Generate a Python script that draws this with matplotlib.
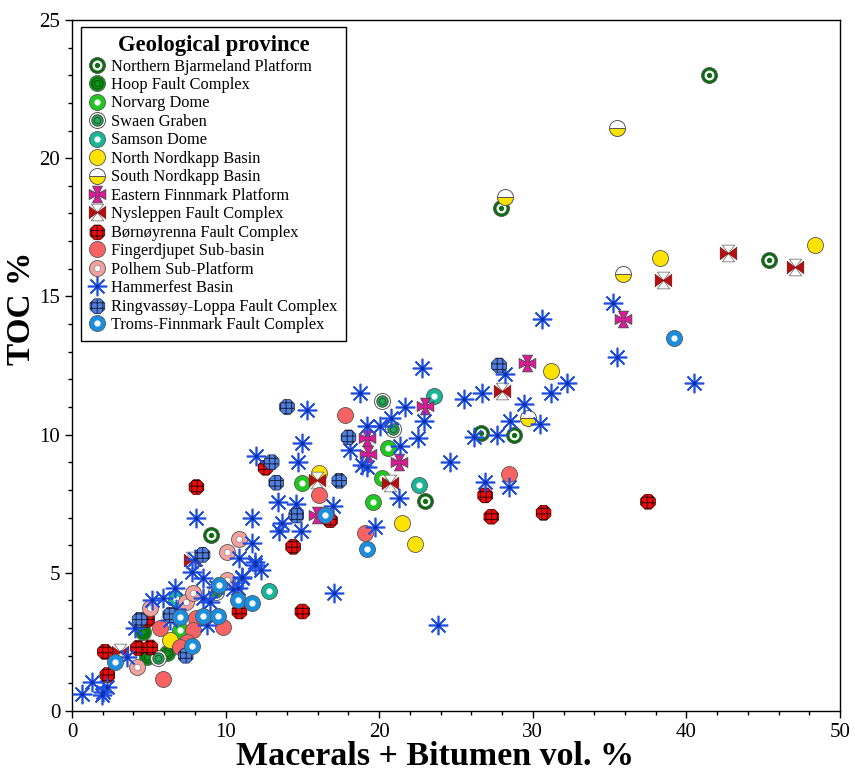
import matplotlib
matplotlib.use("Agg")
import matplotlib.pyplot as plt
from matplotlib.path import Path
from matplotlib.ticker import MultipleLocator

plt.rcParams['font.family'] = ['Liberation Serif', 'DejaVu Serif']
plt.rcParams['hatch.linewidth'] = 0.7

# ---------------- data: Macerals + Bitumen (vol. %) vs TOC (%) ----------------
nbp_x = [41.5, 27.9, 45.4, 26.6, 28.8, 23.0, 9.05]
nbp_y = [23.0, 18.2, 16.3, 10.05, 10.0, 7.6, 6.35]

hoop_x = [4.6, 4.9, 6.2]
hoop_y = [2.86, 1.96, 2.1]

norvarg_x = [15.0, 19.6, 20.2, 20.6, 7.0]
norvarg_y = [8.26, 7.57, 8.44, 9.5, 2.93]

swaen_x = [20.2, 20.9, 9.4, 5.6]
swaen_y = [11.2, 10.2, 4.3, 1.9]

samson_x = [23.6, 22.6, 6.8, 12.8]
samson_y = [11.4, 8.19, 4.06, 4.35]

nnk_x = [38.3, 48.4, 31.2, 16.1, 21.5, 22.3, 6.4]
nnk_y = [16.4, 16.85, 12.3, 8.6, 6.8, 6.05, 2.57]

snk_x = [35.5, 28.2, 35.9, 29.7]
snk_y = [21.1, 18.6, 15.8, 10.6]

efp_x = [29.6, 23.0, 19.2, 19.3, 21.3, 35.9, 15.95]
efp_y = [12.6, 11.05, 9.86, 9.3, 9.0, 14.2, 7.1]

nys_x = [42.7, 47.1, 38.5, 28.0, 20.7, 15.95, 7.8, 3.1]
nys_y = [16.56, 16.05, 15.6, 11.56, 8.26, 8.37, 5.47, 2.14]

born_x = [37.5, 30.7, 27.3, 26.9, 15.0, 14.4, 12.6, 8.1, 16.8, 10.9, 2.15, 2.3, 4.3, 5.1, 4.9]
born_y = [7.57, 7.17, 7.03, 7.8, 3.6, 5.94, 8.8, 8.1, 6.9, 3.6, 2.14, 1.3, 2.28, 2.3, 3.3]

fing_x = [28.45, 17.8, 16.1, 19.1, 5.7, 5.9, 8.1, 7.9, 7.5, 9.8, 7.0]
fing_y = [8.59, 10.7, 7.8, 6.45, 3.0, 1.16, 3.37, 2.93, 2.5, 3.04, 2.3]

polhem_x = [10.9, 10.1, 5.1, 7.4, 7.9, 4.2, 10.1]
polhem_y = [6.23, 5.76, 3.73, 3.95, 4.27, 1.6, 4.75]

ham_x = [30.6, 35.2, 35.5, 32.2, 40.5, 22.8, 28.2, 31.2, 25.5, 26.7, 29.4, 28.5, 30.5,
         18.75, 21.7, 22.9, 20.05, 19.2, 20.8, 26.2, 27.7, 22.5, 21.35, 19.2, 24.6,
         26.9, 28.45, 21.3, 23.8, 17.05, 11.7, 13.5, 14.9, 13.7, 19.7, 11.7, 10.9,
         11.9, 12.3, 11.1, 10.8, 13.4, 14.6, 17.0, 15.3, 15.0, 12.0, 14.7, 8.1, 18.1,
         18.9, 0.65, 1.3, 2.0, 2.3, 1.95, 3.6, 4.1, 5.2, 6.7, 8.0, 7.8, 8.5, 8.5,
         11.1, 11.9, 9.0, 9.4, 8.8, 5.9, 6.8, 6.4, 10.5]
ham_y = [14.2, 14.75, 12.8, 11.85, 11.85, 12.4, 12.2, 11.5, 11.3, 11.5, 11.1, 10.5, 10.4,
         11.5, 11.0, 10.5, 10.3, 10.3, 10.6, 9.9, 10.0, 9.86, 9.6, 8.84, 9.0,
         8.3, 8.1, 7.7, 3.1, 4.27, 7.0, 6.5, 6.5, 6.8, 6.67, 6.09, 5.54,
         5.4, 5.1, 4.8, 4.45, 7.57, 7.5, 7.4, 10.9, 9.7, 9.24, 9.0, 7.0, 9.46,
         8.9, 0.6, 1.05, 0.7, 0.87, 0.58, 1.96, 3.0, 4.0, 4.45, 5.5, 5.04, 4.8, 4.1,
         4.86, 5.3, 3.95, 4.5, 3.1, 4.1, 3.7, 3.3, 4.4]

ring_x = [27.8, 14.0, 18.0, 13.0, 13.3, 17.4, 14.6, 8.5, 4.4, 6.4, 7.4]
ring_y = [12.5, 11.0, 9.9, 9.0, 8.26, 8.33, 7.07, 5.65, 3.3, 3.48, 2.0]

troms_x = [39.2, 16.5, 19.2, 10.8, 11.7, 2.8, 7.0, 7.8, 8.5, 9.5, 9.6]
troms_y = [13.5, 7.1, 5.86, 4.0, 3.9, 1.78, 3.4, 2.36, 3.44, 3.44, 4.56]

x_label = "Macerals + Bitumen vol. %"
y_label = "TOC %"
legend_title = "Geological province"

# ---------------- custom marker shapes ----------------
def polygon_path(points_list):
    verts, codes = [], []
    for pts in points_list:
        verts += pts + [pts[0]]
        codes += [Path.MOVETO] + [Path.LINETO] * (len(pts) - 1) + [Path.CLOSEPOLY]
    return Path(verts, codes)

cross_pattee = polygon_path([[(0.15, 0.15), (0.6, 1), (-0.6, 1), (-0.15, 0.15), (-1, 0.6),
                              (-1, -0.6), (-0.15, -0.15), (-0.6, -1), (0.6, -1),
                              (0.15, -0.15), (1, -0.6), (1, 0.6)]])
bow_sides = polygon_path([[(0, 0), (-1, 0.75), (-1, -0.75)], [(0, 0), (1, 0.75), (1, -0.75)]])
bow_tops = polygon_path([[(0, 0), (-0.75, 1), (0.75, 1)], [(0, 0), (-0.75, -1), (0.75, -1)]])

EDGE = '#555555'
MS = 11.5

fig = plt.figure(figsize=(8.55, 7.70), dpi=100)
ax = fig.add_axes([72 / 855, 1 - 711 / 770, 768 / 855, 691 / 770])


def layers(x, y, specs, z):
    arts = []
    for i, sp in enumerate(specs):
        kw = dict(ls='none', zorder=z + i * 0.01)
        kw.update(sp)
        arts.append(ax.plot(x, y, **kw)[0])
    return tuple(arts)


handles = []
labels = []

h = layers(nbp_x, nbp_y, [dict(marker='o', ms=MS, mfc='#0d6b12', mec=EDGE, mew=0.6),
                          dict(marker='o', ms=7.2, mfc='white', mec='none'),
                          dict(marker='o', ms=3.8, mfc='#0d6b12', mec='none')], 3)
handles.append(h); labels.append("Northern Bjarmeland Platform")

h = layers(hoop_x, hoop_y, [dict(marker='o', ms=MS, mfc='#0c9a16', mec=EDGE, mew=0.6),
                            dict(marker='o', ms=8, mfc='none', mec='#05520a', mew=0.8),
                            dict(marker='o', ms=4.5, mfc='none', mec='#05520a', mew=0.8)], 3.1)
handles.append(h); labels.append("Hoop Fault Complex")

h = layers(norvarg_x, norvarg_y, [dict(marker='o', ms=MS, mfc='#1fc81f', mec=EDGE, mew=0.6),
                                  dict(marker='o', ms=4.5, mfc='white', mec='none')], 3.2)
handles.append(h); labels.append("Norvarg Dome")

h = layers(swaen_x, swaen_y, [dict(marker='o', ms=MS, mfc='white', mec=EDGE, mew=0.7),
                              dict(marker='o', ms=8.2, mfc='#2aa85a', mec='#333333', mew=0.6),
                              dict(marker='o', ms=4.6, mfc='none', mec='#135c2c', mew=0.7)], 3.3)
handles.append(h); labels.append("Swaen Graben")

h = layers(samson_x, samson_y, [dict(marker='o', ms=MS, mfc='#19b597', mec=EDGE, mew=0.6),
                                dict(marker='o', ms=4.5, mfc='white', mec='none')], 3.4)
handles.append(h); labels.append("Samson Dome")

h = layers(nnk_x, nnk_y, [dict(marker='o', ms=MS, mfc='#ffe300', mec=EDGE, mew=0.6)], 3.5)
handles.append(h); labels.append("North Nordkapp Basin")

h = layers(snk_x, snk_y, [dict(marker='o', ms=MS, fillstyle='bottom', mfc='#ffe300',
                               markerfacecoloralt='white', mec=EDGE, mew=0.7)], 3.6)
handles.append(h); labels.append("South Nordkapp Basin")

h = layers(efp_x, efp_y, [dict(marker=cross_pattee, ms=12, mfc='#e0189a', mec='#444444', mew=0.6)], 3.7)
handles.append(h); labels.append("Eastern Finnmark Platform")

h = layers(nys_x, nys_y, [dict(marker=bow_tops, ms=12, mfc='white', mec='#777777', mew=0.6),
                          dict(marker=bow_sides, ms=12, mfc='#b5100f', mec='#6a0a0a', mew=0.4)], 3.8)
handles.append(h); labels.append("Nysleppen Fault Complex")

sc = ax.scatter(born_x, born_y, s=MS ** 2, marker='8', facecolor='#ee0a0a',
                edgecolor='#3a0000', linewidths=0.5, hatch='+++', zorder=3.9)
handles.append(sc); labels.append("Børnøyrenna Fault Complex")

h = layers(fing_x, fing_y, [dict(marker='o', ms=MS, mfc='#f96262', mec=EDGE, mew=0.6)], 4.0)
handles.append(h); labels.append("Fingerdjupet Sub-basin")

h = layers(polhem_x, polhem_y, [dict(marker='o', ms=MS, mfc='#f4a19d', mec=EDGE, mew=0.6),
                                dict(marker='o', ms=4.5, mfc='white', mec='#777777', mew=0.4)], 4.1)
handles.append(h); labels.append("Polhem Sub-Platform")

h = layers(ham_x, ham_y, [dict(marker=(8, 2, 0), ms=14, mec='#1f4fe0', mew=1.2),
                          dict(marker='o', ms=3, mfc='#0a2fb0', mec='none')], 4.2)
handles.append(h); labels.append("Hammerfest Basin")

sc2 = ax.scatter(ring_x, ring_y, s=MS ** 2, marker='8', facecolor='#4f80e0',
                 edgecolor='#1a2240', linewidths=0.5, hatch='+++', zorder=4.3)
handles.append(sc2); labels.append("Ringvassøy-Loppa Fault Complex")

h = layers(troms_x, troms_y, [dict(marker='o', ms=MS, mfc='#1a8fe0', mec=EDGE, mew=0.6),
                              dict(marker='o', ms=4.5, mfc='white', mec='none')], 4.4)
handles.append(h); labels.append("Troms-Finnmark Fault Complex")

# ---------------- axes styling ----------------
ax.set_xlim(0, 50)
ax.set_ylim(0, 25)
ax.xaxis.set_major_locator(MultipleLocator(10))
ax.xaxis.set_minor_locator(MultipleLocator(2))
ax.yaxis.set_major_locator(MultipleLocator(5))
ax.yaxis.set_minor_locator(MultipleLocator(1))
ax.tick_params(which='both', direction='out', top=False, right=False, labelsize=15, width=1)
ax.tick_params(which='major', length=5)
ax.tick_params(which='minor', length=3)
for s in ax.spines.values():
    s.set_linewidth(1)

ax.set_xlabel(x_label, fontsize=24.5, fontweight='bold')
ax.xaxis.set_label_coords(0.473, -0.043)
ax.set_ylabel(y_label, fontsize=24, fontweight='bold')
ax.yaxis.set_label_coords(-0.046, 0.583)

leg = ax.legend(handles, labels, title=legend_title, loc='upper left',
                bbox_to_anchor=(0.0117, 0.99), borderaxespad=0, fontsize=11.8,
                title_fontproperties={'weight': 'bold', 'size': 16.3},
                frameon=True, fancybox=False, edgecolor='black', framealpha=1,
                handlelength=1.0, handletextpad=0.35, labelspacing=0.15,
                borderpad=0.5, scatterpoints=1, markerscale=1.0)
leg.get_frame().set_linewidth(1)
leg.set_zorder(10)

fig.savefig("out.png", dpi=100)
